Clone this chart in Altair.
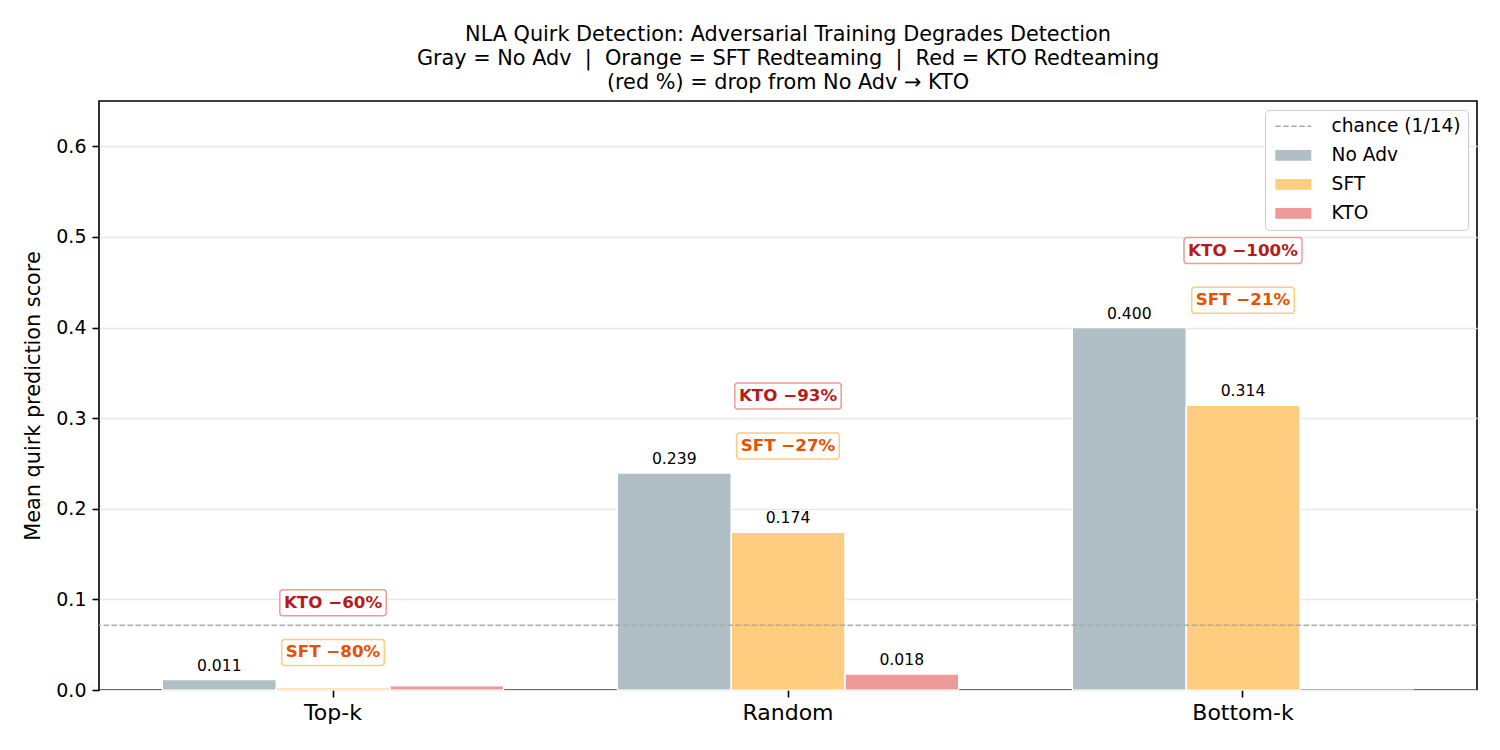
import altair as alt
import pandas as pd

# ---------------- data ----------------
GROUPS = ["Top-k", "Random", "Bottom-k"]
SERIES = ["No Adv", "SFT", "KTO"]
NO_ADV = [0.0114, 0.2394, 0.4000]
SFT = [0.0023, 0.1740, 0.3142]
KTO = [0.0046, 0.0176, 0.0000]
CHANCE = 1 / 14
CHANCE_LABEL = "chance (1/14)"
Y_TICKS = [0.0, 0.1, 0.2, 0.3, 0.4, 0.5, 0.6]
TITLE = [
    "NLA Quirk Detection: Adversarial Training Degrades Detection",
    "Gray = No Adv \u00a0|\u00a0 Orange = SFT Redteaming \u00a0|\u00a0 Red = KTO Redteaming",
    "(red %) = drop from No Adv \u2192 KTO",
]

# ---------------- styles ----------------
FONT = "DejaVu Sans"
CHANCE_COLOR = "#aaaaaa"
SERIES_COLORS = ["#b0bec5", "#ffcc80", "#ef9a9a"]
ANN_STYLE = {"SFT": ("#e65100", "#ffcc80", 0.03), "KTO": ("#b71c1c", "#ef9a9a", 0.085)}
ANN_FONT = 16.7
LABEL_THRESHOLD = 0.01
LEGEND_DOMAIN = [CHANCE_LABEL] + SERIES
DASH = [5.5, 2.5]

BOLD_W = {"K": .776, "T": .683, "O": .850, "S": .719, "F": .683, " ": .348,
          "\u2212": .838, "%": 1.002}
for d in "0123456789":
    BOLD_W[d] = .696


def box_path(text, pad=4.0, hh=13.0, r=3.0):
    w = sum(BOLD_W.get(c, .7) for c in text) * ANN_FONT + 2 * pad
    hw = w / 2
    return (f"M{-hw + r},{-hh}L{hw - r},{-hh}Q{hw},{-hh},{hw},{-hh + r}"
            f"L{hw},{hh - r}Q{hw},{hh},{hw - r},{hh}L{-hw + r},{hh}"
            f"Q{-hw},{hh},{-hw},{hh - r}L{-hw},{-hh + r}Q{-hw},{-hh},{-hw + r},{-hh}Z")


# legend symbol paths (units: 6 px with symbolSize 144; symbol spans x -1..5 = 36 px)
UNIT = 6.0
RECT_SYM = "M-1,-0.9L5,-0.9L5,0.9L-1,0.9Z"


def dash_sym(length=36.0, thick=1.5):
    parts, pos = [], 0.0
    hh = thick / 2 / UNIT
    while pos < length:
        a, b = pos, min(pos + DASH[0], length)
        xa, xb = -1 + a / UNIT, -1 + b / UNIT
        parts.append(f"M{xa:.3f},{-hh:.3f}L{xb:.3f},{-hh:.3f}L{xb:.3f},{hh:.3f}L{xa:.3f},{hh:.3f}Z")
        pos += DASH[0] + DASH[1]
    return "".join(parts)


rows = []
for i, g in enumerate(GROUPS):
    for s, vals in zip(SERIES, [NO_ADV, SFT, KTO]):
        v = vals[i]
        rows.append({"group": g, "series": s, "value": v, "label": f"{v:.3f}"})
bars_df = pd.DataFrame(rows)

ann_rows = []
for i, g in enumerate(GROUPS):
    base = max(NO_ADV[i], SFT[i], KTO[i])
    for kind, vals in [("SFT", SFT), ("KTO", KTO)]:
        pct = round((1 - vals[i] / NO_ADV[i]) * 100)
        text = f"{kind} \u2212{pct}%"
        ann_rows.append({"group": g, "kind": kind, "text": text,
                         "y": base + ANN_STYLE[kind][2], "shape": box_path(text)})
ann_df = pd.DataFrame(ann_rows)

chance_df = pd.DataFrame({"value": [CHANCE], "series": [CHANCE_LABEL]})


def build(extra_lines=None):
    x_axis = alt.Axis(title=None, labelAngle=0, labelFont=FONT, labelFontSize=22,
                      labelColor="black", tickSize=7, tickWidth=1.6,
                      tickColor="black", labelPadding=5, domain=False, grid=False)
    x_enc = alt.X("group:N", sort=GROUPS,
                  scale=alt.Scale(paddingInner=0, paddingOuter=0.0143), axis=x_axis)
    x_plain = alt.X("group:N", sort=GROUPS)
    off_enc = alt.XOffset("series:N", sort=SERIES,
                          scale=alt.Scale(paddingInner=0, paddingOuter=0.5))
    y_scale = alt.Scale(domain=[0, 0.65], nice=False, zero=True)
    y_axis = alt.Axis(title="Mean quirk prediction score", values=Y_TICKS, format=".1f",
                      labelFont=FONT, labelFontSize=19, labelColor="black",
                      titleFont=FONT, titleFontSize=20.8, titleFontWeight="normal",
                      titleColor="black", titlePadding=12,
                      tickSize=7, tickWidth=1.6, tickColor="black", labelPadding=6,
                      domain=False, grid=True, gridColor="#e8e8e8", gridWidth=1.3)

    legend = alt.Legend(
        title=None, orient="top-right", offset=9,
        fillColor="white", strokeColor="#cccccc", cornerRadius=4, padding=7,
        labelFont=FONT, labelFontSize=18.6, labelColor="black",
        symbolSize=144, symbolStrokeWidth=0, symbolOpacity=1,
        labelOffset=41, rowPadding=10,
    )
    color_enc = alt.Color("series:N",
                          scale=alt.Scale(domain=LEGEND_DOMAIN,
                                          range=[CHANCE_COLOR] + SERIES_COLORS),
                          legend=legend)

    bars = alt.Chart(bars_df).mark_bar(opacity=1).encode(
        x=x_enc, xOffset=off_enc,
        y=alt.Y("value:Q", scale=y_scale, axis=y_axis),
        color=color_enc,
    )
    bar_edges = alt.Chart(bars_df).mark_bar(fillOpacity=0, stroke="white",
                                            strokeWidth=1.2).encode(
        x=x_plain, xOffset=alt.XOffset("series:N", sort=SERIES),
        y=alt.Y("value:Q", scale=y_scale),
    )

    # legend-only layer (no marks drawn): supplies the per-entry symbol shapes
    legend_shapes = alt.Chart(chance_df).transform_filter("false").mark_point(
        filled=True, opacity=1).encode(
        y=alt.Y("value:Q", scale=y_scale),
        color=alt.Color("series:N"),
        shape=alt.Shape("series:N", scale=alt.Scale(
            domain=LEGEND_DOMAIN, range=[dash_sym(), RECT_SYM, RECT_SYM, RECT_SYM]),
            legend=legend),
    )

    value_labels = alt.Chart(bars_df).transform_filter(
        f"datum.value >= {LABEL_THRESHOLD}"
    ).mark_text(font=FONT, fontSize=15.6, color="black", baseline="alphabetic",
                dy=-9).encode(
        x=x_plain, xOffset=alt.XOffset("series:N", sort=SERIES),
        y=alt.Y("value:Q", scale=y_scale),
        text="label:N",
    )

    chance_rule = alt.Chart(chance_df).mark_rule(strokeDash=DASH, strokeWidth=1.5).encode(
        y=alt.Y("value:Q", scale=y_scale),
        color=alt.Color("series:N"),
    )

    ann_layers = []
    for kind, (tcol, bcol, _) in ANN_STYLE.items():
        sub = alt.Chart(ann_df).transform_filter(f"datum.kind === '{kind}'")
        boxes = sub.mark_point(filled=False, fill="white", fillOpacity=0.9, stroke=bcol,
                               strokeWidth=1.5, opacity=1, size=4).encode(
            x=x_plain,
            y=alt.Y("y:Q", scale=y_scale),
            shape=alt.Shape("shape:N", scale=None, legend=None),
        )
        texts = sub.mark_text(font=FONT, fontSize=ANN_FONT, fontWeight="bold", color=tcol,
                              baseline="middle", align="center").encode(
            x=x_plain,
            y=alt.Y("y:Q", scale=y_scale),
            text="text:N",
        )
        ann_layers += [boxes, texts]

    layers = [bars, bar_edges, legend_shapes, chance_rule, value_labels] + ann_layers
    if extra_lines:
        err_df = pd.DataFrame({"t": extra_lines})
        layers.append(alt.Chart(err_df).mark_text(align="left", fontSize=12,
                                                  color="blue").encode(
            x=alt.value(10), y=alt.Y("t:N", axis=None), text="t:N"))

    return alt.layer(*layers).properties(
        width=1378, height=589,
        padding={"left": 91, "top": 93, "right": 10, "bottom": 45},
        autosize="none",
        title=alt.TitleParams(text=TITLE, font=FONT, fontSize=20.8, fontWeight="normal",
                              color="black", lineHeight=24, anchor="middle", offset=7),
    ).configure_view(stroke="black", strokeWidth=1.6)


try:
    chart = build()
    chart.save("out.html", embed_options={"renderer": "svg", "actions": False})
except Exception as e:
    msg = str(e)
    lines = [f"{k:02d} " + msg[i:i + 180] for k, i in enumerate(range(0, min(len(msg), 2500), 180))]
    chart = build(lines)
    chart.save("out.html", embed_options={"renderer": "svg", "actions": False})
